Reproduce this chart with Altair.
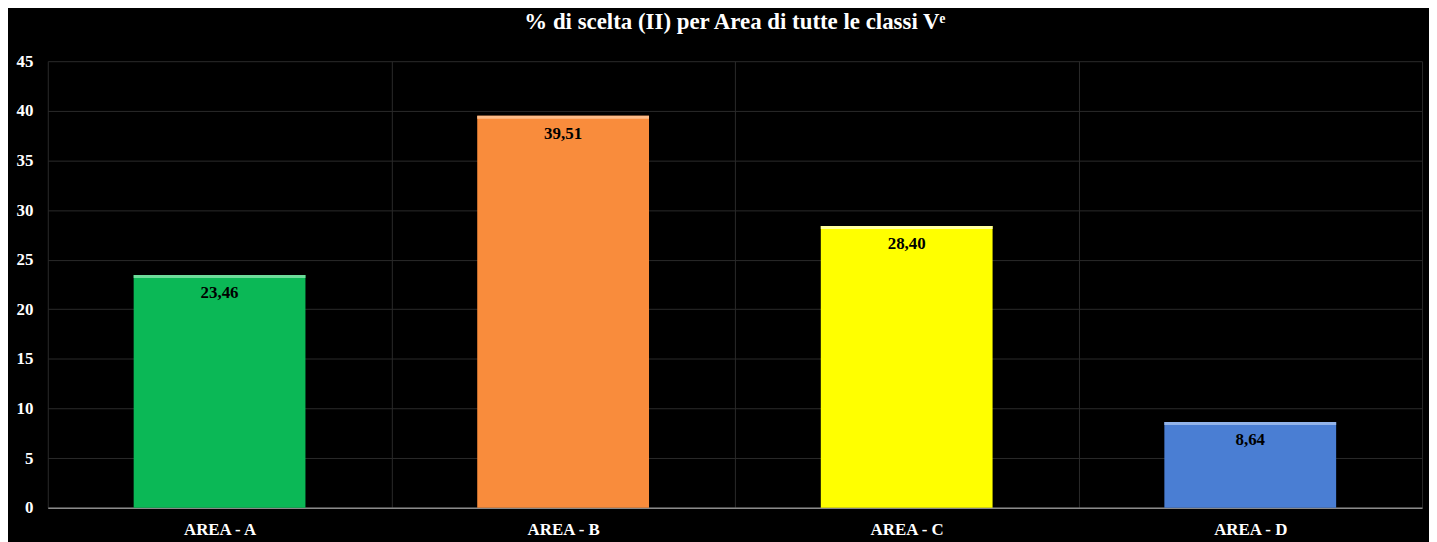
import altair as alt
import pandas as pd

categories = ["AREA - A", "AREA - B", "AREA - C", "AREA - D"]
values = [23.46, 39.51, 28.40, 8.64]
colors = ["#0BB856", "#F98C3C", "#FFFF00", "#4A7ED3"]
edge_colors = ["#6EDC9A", "#FDBB87", "#FFFF9E", "#93B4EA"]
y_ticks = [0, 5, 10, 15, 20, 25, 30, 35, 40, 45]
title_text = "% di scelta (II) per Area di tutte le classi Vᵉ"

df = pd.DataFrame({"cat": categories, "v": values, "col": colors, "edge": edge_colors})

FONT = "Liberation Serif"

x_enc = alt.X(
    "cat:N",
    sort=categories,
    scale=alt.Scale(paddingInner=0, paddingOuter=0),
    axis=alt.Axis(
        title=None,
        labelAngle=0,
        labelColor="white",
        labelFont=FONT,
        labelFontWeight="bold",
        labelFontSize=17,
        labelPadding=14,
        ticks=False,
        domainColor="#8a8a8a",
        domainWidth=1.5,
        grid=True,
        gridColor="#2a2a2a",
        gridWidth=1,
        tickBand="extent",
    ),
)

y_scale = alt.Scale(domain=[0, 45], nice=False)

bars = alt.Chart(df).mark_bar(width=alt.RelativeBandSize(0.5)).encode(
    x=x_enc,
    y=alt.Y(
        "v:Q",
        scale=y_scale,
        axis=alt.Axis(
            title=None,
            values=y_ticks,
            labelColor="white",
            labelFont=FONT,
            labelFontWeight="bold",
            labelFontSize=17,
            labelPadding=15,
            ticks=False,
            domain=False,
            gridColor="#2a2a2a",
            gridWidth=1,
        ),
    ),
    color=alt.Color("col:N", scale=None, legend=None),
)

edges = alt.Chart(df).transform_calculate(
    v2="datum.v - 0.3"
).mark_bar(width=alt.RelativeBandSize(0.5)).encode(
    x=alt.X("cat:N", sort=categories),
    y=alt.Y("v:Q", scale=y_scale),
    y2="v2:Q",
    color=alt.Color("edge:N", scale=None, legend=None),
)

labels = alt.Chart(df).transform_calculate(
    lab="replace(format(datum.v, '.2f'), '.', ',')"
).mark_text(
    baseline="middle",
    dy=18,
    font=FONT,
    fontWeight="bold",
    fontSize=17,
    color="black",
).encode(
    x=alt.X("cat:N", sort=categories),
    y=alt.Y("v:Q", scale=y_scale),
    text="lab:N",
)

chart = alt.layer(bars, edges, labels).properties(
    width=1382,
    height=449,
    title=alt.TitleParams(
        text=title_text,
        color="white",
        font=FONT,
        fontWeight="bold",
        fontSize=23,
        anchor="middle",
        offset=18,
    ),
    padding={"left": 40, "top": 52, "right": 7, "bottom": 33},
    autosize=alt.AutoSizeParams(type="none"),
    background="black",
).configure_view(stroke=None)

chart.save("out.html", embed_options={"renderer": "svg", "actions": False})
